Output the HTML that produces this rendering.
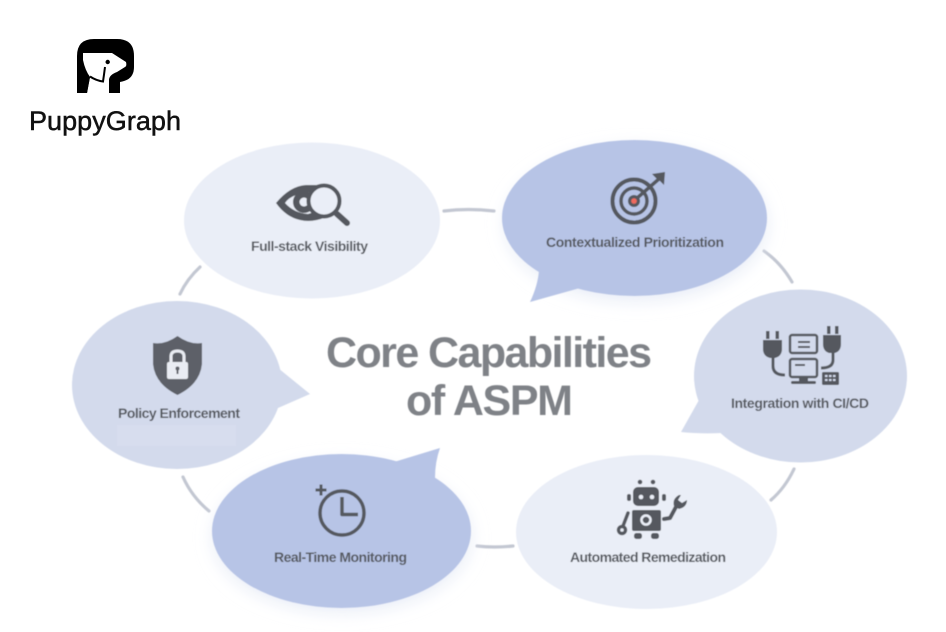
<!DOCTYPE html>
<html>
<head>
<meta charset="utf-8">
<style>
html,body{margin:0;padding:0;background:#fff;width:946px;height:632px;overflow:hidden}
svg{display:block}
text{font-family:"Liberation Sans",sans-serif}
.l{font-size:14px;font-weight:bold;fill:#55585e}
.t{font-size:43px;font-weight:bold;fill:#7f8287}
</style>
</head>
<body>
<svg width="946" height="632" viewBox="0 0 946 632" xmlns="http://www.w3.org/2000/svg">
<defs>
<filter id="b" x="-20%" y="-20%" width="140%" height="140%"><feGaussianBlur stdDeviation="0.45"/></filter>
<filter id="s" x="-30%" y="-30%" width="160%" height="160%"><feGaussianBlur stdDeviation="9"/></filter>
</defs>

<!-- logo -->
<g>
<path d="M77 93V56Q77 39 94 39H117Q134 39 134 56V67Q134 80 120 82V93H77Z" fill="#000"/>
<path d="M83 53H112L126 62Q127 66 125 67L117 72Q109 75 109 80V93H87L90 77Q85 70 83 60Z" fill="#fff"/>
<path d="M90 76.500Q96 80.500 103 81.500Q104 75 105 67" fill="none" stroke="#000" stroke-width="2"/>
<path d="M77 93H87L90 77L84 70L77 66Z" fill="#000"/>
<circle cx="107.700" cy="62" r="2.200" fill="#000"/>
<text x="29" y="130" font-size="27" fill="#111" stroke="#111" stroke-width="0.500" textLength="152" lengthAdjust="spacing">PuppyGraph</text>
</g>

<g filter="url(#b)">
<!-- connector arcs -->
<g fill="none" stroke="#c3c7d2" stroke-width="3.200" stroke-linecap="round">
<path d="M444 211Q468 208 494 211"/>
<path d="M764 251Q781 263 792 282"/>
<path d="M794 469Q785 488 771 500"/>
<path d="M513 546Q494 548 477 546"/>
<path d="M209 511Q192 497 183 477"/>
<path d="M180 294Q187 279 200 267"/>
</g>

<!-- soft shadows -->
<ellipse cx="636" cy="224" rx="130" ry="76" fill="#e6ebf6" filter="url(#s)"/>
<ellipse cx="342" cy="537" rx="128" ry="74" fill="#e6ebf6" filter="url(#s)"/>

<!-- bubbles -->
<ellipse cx="312" cy="220.500" rx="128" ry="78" fill="#eaeef7"/>

<ellipse cx="634.500" cy="218" rx="132.500" ry="78" fill="#b7c4e6"/>
<path d="M539 270Q538 285 530 302L580 288Z" fill="#b7c4e6"/>

<ellipse cx="800.500" cy="376" rx="106.500" ry="86.500" fill="#d3daec"/>
<path d="M699 400L681 432Q700 434 722 433Z" fill="#d3daec"/>

<ellipse cx="646.500" cy="532" rx="130.500" ry="77" fill="#eaeef7"/>

<ellipse cx="341.500" cy="531" rx="129.500" ry="77" fill="#b7c4e6"/>
<path d="M394 462L440 448Q435 462 435 478Z" fill="#b7c4e6"/>

<ellipse cx="177" cy="385" rx="105" ry="84" fill="#d3daec"/>
<path d="M278 368L310 394L278 408Z" fill="#d3daec"/>
<rect x="117" y="425" width="119" height="21" fill="#d7ddee"/>

<!-- eye + magnifier -->
<g>
<path d="M276 203Q290 186 306 185L324 185L322 193Q308 190 296 195Q288 198 285 203Q294 213 308 214L318 211L326 217Q312 223 300 220Q286 217 276 203Z" fill="#55585e"/>
<circle cx="304" cy="202" r="11" fill="#55585e"/>
<circle cx="304" cy="202" r="4.500" fill="#eaeef7"/>
<circle cx="324" cy="201" r="15.500" fill="#eaeef7" stroke="#55585e" stroke-width="4"/>
<path d="M337 214L347 223" stroke="#55585e" stroke-width="6" stroke-linecap="round"/>
</g>

<!-- target -->
<g fill="none" stroke="#55585e">
<circle cx="634" cy="201" r="21.500" stroke-width="4"/>
<circle cx="634" cy="201" r="13" stroke-width="3.500"/>
<circle cx="634" cy="201" r="6" fill="#55585e" stroke="none"/>
<path d="M636 199L660 178" stroke-width="3.500"/>
<path d="M652 174L665 172L664 185L659 180L657 179Z" fill="#55585e" stroke="none"/>
<circle cx="634" cy="201" r="2.800" fill="#ee6b5e" stroke="none"/>
</g>

<!-- integration -->
<g fill="#55585e">
<rect x="766" y="331" width="3.500" height="8"/><rect x="775.500" y="331" width="3.500" height="8"/>
<path d="M763 340H782V349Q782 356 775 358H770Q763 356 763 349Z"/>
<rect x="827" y="326" width="3.500" height="8"/><rect x="835" y="326" width="3.500" height="8"/>
<path d="M823 335H841V344Q841 351 835 353H829Q823 351 823 344Z"/>
<path d="M773 357V366Q773 375 785 375" fill="none" stroke="#55585e" stroke-width="3"/>
<path d="M833 352V360Q833 368 821 368" fill="none" stroke="#55585e" stroke-width="3"/>
<rect x="790" y="335" width="27" height="18" rx="2" fill="none" stroke="#55585e" stroke-width="2.500"/>
<rect x="798" y="341" width="12" height="2"/><rect x="798" y="346" width="12" height="2"/>
<rect x="790" y="359" width="27" height="18" rx="2" fill="none" stroke="#55585e" stroke-width="2.500"/>
<rect x="795" y="364" width="10" height="2"/>
<rect x="799" y="377" width="9" height="4"/>
<rect x="791" y="381" width="25" height="3" rx="1.500"/>
<rect x="822" y="372" width="17" height="13" rx="1.500"/>
<g fill="#d3daec"><rect x="825" y="375" width="2.500" height="2"/><rect x="829" y="375" width="2.500" height="2"/><rect x="833" y="375" width="2.500" height="2"/><rect x="825" y="379" width="2.500" height="2"/><rect x="829" y="379" width="2.500" height="2"/><rect x="833" y="379" width="2.500" height="2"/></g>
</g>

<!-- robot -->
<g fill="#55585e">
<circle cx="640" cy="482" r="2.300"/><circle cx="653" cy="482" r="2.300"/>
<rect x="633" y="487" width="26" height="19" rx="5"/>
<circle cx="641" cy="497" r="2.300" fill="#eaeef7"/><circle cx="652" cy="497" r="2.300" fill="#eaeef7"/>
<rect x="627" y="494" width="4" height="7" rx="2"/><rect x="662" y="494" width="4" height="7" rx="2"/>
<rect x="632" y="510" width="29" height="21" rx="2"/>
<circle cx="646" cy="520" r="4.500" fill="none" stroke="#eaeef7" stroke-width="2.500"/>
<rect x="634" y="533" width="8" height="6" rx="2.500"/><rect x="651" y="533" width="8" height="6" rx="2.500"/>
<path d="M628 513L623 526" stroke="#55585e" stroke-width="3.500" stroke-linecap="round" fill="none"/>
<circle cx="622" cy="530" r="3.500" fill="none" stroke="#55585e" stroke-width="3.500"/>
<path d="M664 519L670 518L677 505" stroke="#55585e" stroke-width="4" fill="none" stroke-linecap="round" stroke-linejoin="round"/>
<path d="M674 506Q672 499 679 495L681 495L678 500L682 503L687 500Q687 507 679 509Z"/>
</g>

<!-- clock -->
<g fill="none" stroke="#55585e" stroke-width="3.500">
<circle cx="342" cy="513" r="22"/>
<path d="M342 497V514.500H358" stroke-linejoin="round"/>
<path d="M315.500 490H326.500M321 484.500V495.500" stroke-width="3"/>
</g>

<!-- shield -->
<g>
<path d="M177.500 336Q165 345 153 343V364Q155 384 177.500 395Q200 384 202 364V343Q190 345 177.500 336Z" fill="#5d6068"/>
<rect x="167" y="362" width="21" height="17" rx="2" fill="#e9ecf3"/>
<path d="M171 362V356.500Q171 351 177.500 351Q184 351 184 356.500V362" fill="none" stroke="#e9ecf3" stroke-width="3"/>
<circle cx="177.500" cy="368.500" r="2" fill="#5d6068"/>
<rect x="176.500" y="369" width="2" height="5" fill="#5d6068"/>
</g>

<!-- labels -->
<text class="l" x="251" y="251" textLength="117" lengthAdjust="spacing">Full-stack Visibility</text>
<text class="l" x="546" y="247" textLength="178" lengthAdjust="spacing">Contextualized Prioritization</text>
<text class="l" x="731" y="408" textLength="138" lengthAdjust="spacing">Integration with CI/CD</text>
<text class="l" x="570" y="562" textLength="156" lengthAdjust="spacing">Automated Remedization</text>
<text class="l" x="274" y="562" textLength="133" lengthAdjust="spacing">Real-Time Monitoring</text>
<text class="l" x="118" y="418" textLength="122" lengthAdjust="spacing">Policy Enforcement</text>

<!-- title -->
<text class="t" x="326" y="367" textLength="326" lengthAdjust="spacing">Core Capabilities</text>
<text class="t" x="406" y="415" textLength="167" lengthAdjust="spacing">of ASPM</text>
</g>
</svg>
</body>
</html>
